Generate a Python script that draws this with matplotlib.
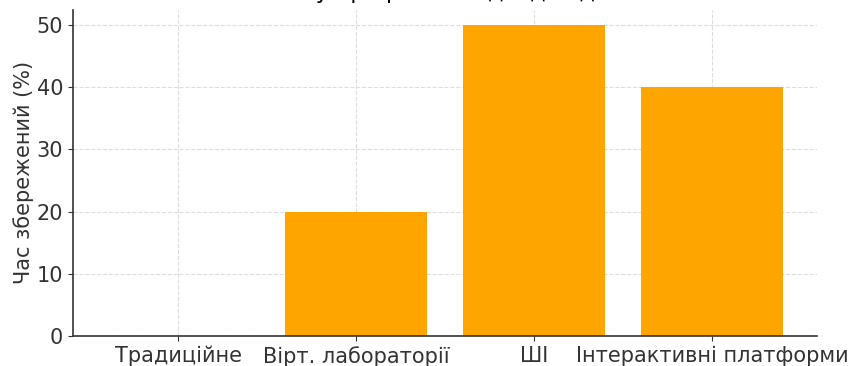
import matplotlib.pyplot as plt

# Дані
methods = ['Традиційне', 'Вірт. лабораторії', 'ШІ', 'Інтерактивні платформи']
time_saved = [0, 20, 50, 40]

fig = plt.figure(figsize=(8.55, 3.66), dpi=100)
ax = fig.add_axes([0.0854, 0.082, 0.8702, 0.892])

ax.bar(methods, time_saved, color='#FFA500', width=0.8, zorder=2)

ax.set_ylabel('Час збережений (%)', fontsize=15, color='#333333', labelpad=2)
ax.tick_params(axis='both', labelsize=15, colors='#333333')
ax.grid(True, linestyle='--', color='#dddddd', linewidth=0.8, zorder=0)
ax.set_yticks([0, 10, 20, 30, 40, 50])

for side in ['top', 'right']:
    ax.spines[side].set_visible(False)
for side in ['left', 'bottom']:
    ax.spines[side].set_color('#333333')
    ax.spines[side].set_linewidth(1.2)

# заголовок у вихідному зображенні обрізаний верхнім краєм
fig.text(0.52, 1.004, 'Економія часу при різних підходах до навчання',
         ha='center', va='baseline', fontsize=16)

fig.savefig('out.png', dpi=100)
